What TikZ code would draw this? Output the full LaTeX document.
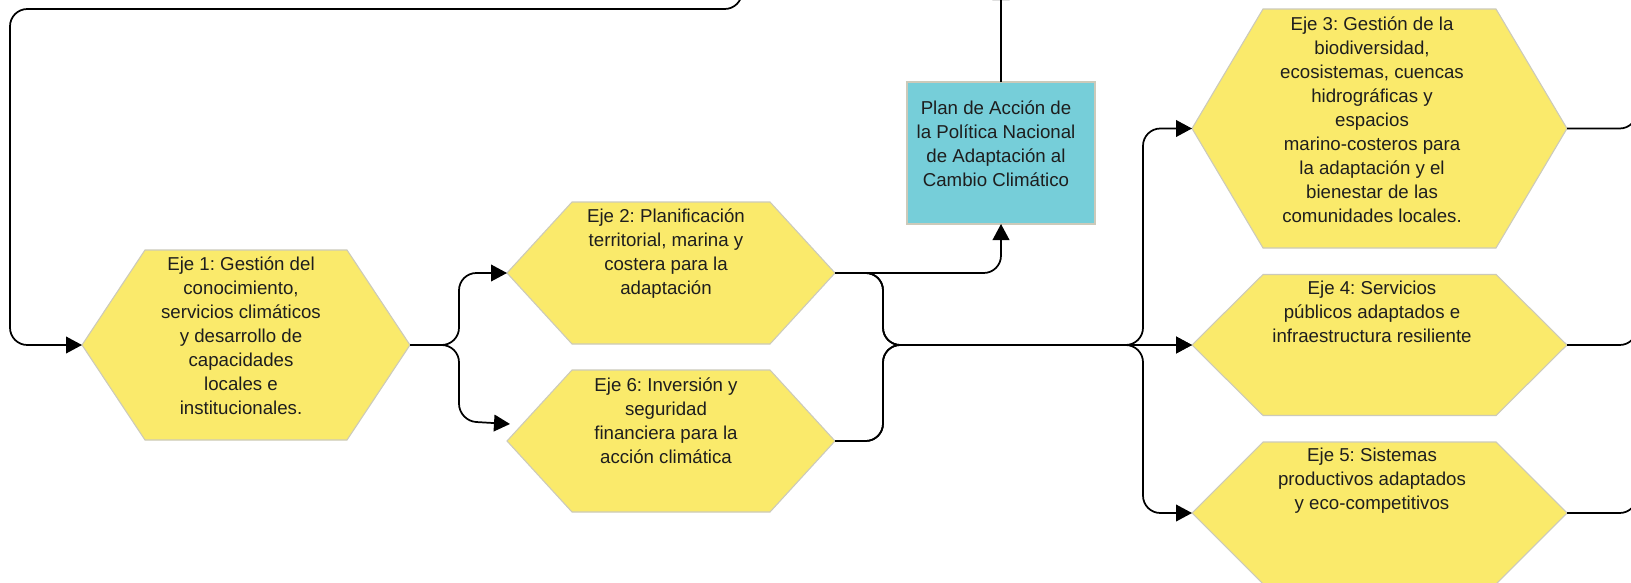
\documentclass[tikz,border=0pt]{standalone}
\usepackage{fontspec}
\setmainfont{Liberation Sans}
\usetikzlibrary{calc,arrows.meta}
\definecolor{hexfill}{HTML}{FAEA6B}
\definecolor{hexline}{HTML}{CCCABA}
\definecolor{planfill}{HTML}{76CED9}
\definecolor{txtcol}{HTML}{1E1E1E}
\frenchspacing
\tikzset{
  box/.style={rectangle, inner sep=0pt, outer sep=0pt},
  hexshape/.style={fill=hexfill, draw=hexline, line width=0.8pt},
  planbox/.style={box, fill=planfill, draw=hexline, line width=0.8pt},
  txt/.style={align=center, anchor=north, inner sep=0pt, text=txtcol, font=\fontsize{14pt}{18pt}\selectfont\frenchspacing},
  conn/.style={line width=1.3pt, rounded corners=13pt},
  arr/.style={conn, -{Triangle[length=12pt,width=12.5pt]}},
}
\newcommand{\hexof}[2]{\path[hexshape] (#1.west) -- ($(#1.north west)+(#2,0)$) -- ($(#1.north east)+(-#2,0)$) -- (#1.east) -- ($(#1.south east)+(-#2,0)$) -- ($(#1.south west)+(#2,0)$) -- cycle;}
\begin{document}
\begin{tikzpicture}[x=0.75pt, y=-0.75pt]
\useasboundingbox (0,0) rectangle (1631,582);
\clip (0,0) rectangle (1631,582);
\fill[white] (0,0) rectangle (1631,582);

% shape holders
\node[box, minimum width=246pt, minimum height=142.5pt] (e1) at (246,345) {};
\node[box, minimum width=246pt, minimum height=106.5pt] (e2) at (671,273) {};
\node[box, minimum width=246pt, minimum height=106.5pt] (e6) at (671,441) {};
\node[box, minimum width=281.25pt, minimum height=179.25pt] (e3) at (1379.5,128.5) {};
\node[box, minimum width=281.25pt, minimum height=105.75pt] (e4) at (1379.5,345) {};
\node[box, minimum width=281.25pt, minimum height=106.5pt] (e5) at (1379.5,513) {};
\node[planbox, minimum width=141pt, minimum height=106.5pt] (plan) at (1001,153) {};

\hexof{e1}{63}
\hexof{e2}{65}
\hexof{e6}{65}
\hexof{e3}{71}
\hexof{e4}{71}
\hexof{e5}{71}

% texts
\node[txt] (e1t) at (241,256) {Eje 1: Gestión del\\conocimiento,\\servicios climáticos\\y desarrollo de\\capacidades\\locales e\\institucionales.};
\node[txt] (e2t) at (666,208) {Eje 2: Planificación\\territorial, marina y\\costera para la\\adaptación};
\node[txt] (e6t) at (666,377) {Eje 6: Inversión y\\seguridad\\financiera para la\\acción climática};
\node[txt] (plant) at (996,100) {Plan de Acción de\\la Política Nacional\\de Adaptación al\\Cambio Climático};
\node[txt] (e3t) at (1372,16) {Eje 3: Gestión de la\\biodiversidad,\\ecosistemas, cuencas\\hidrográficas y\\espacios\\marino-costeros para\\la adaptación y el\\bienestar de las\\comunidades locales.};
\node[txt] (e4t) at (1372,281) {Eje 4: Servicios\\públicos adaptados e\\infraestructura resiliente};
\node[txt] (e5t) at (1372,448) {Eje 5: Sistemas\\productivos adaptados\\y eco-competitivos};

% free ends
\coordinate (toploop) at (742,-40);
\coordinate (planup) at (1001,-16);
\coordinate (e6in) at (510,424);
\coordinate (r3) at (1637,-60);
\coordinate (r4) at (1637,200);
\coordinate (r5) at (1637,400);

% connectors
\draw[arr] (toploop) -- (742,9) -- (10,9) -- (10,345) -- (e1.west);
\draw[arr] (e1.east) -- (459,345) -- (459,273) -- (e2.west);
\draw[arr] (e1.east) -- (459,345) -- (459,421) -- (e6in);
\draw[arr] (e2.east) -- (1001,273) -- (plan.south);
\draw[arr] (plan.north) -- (planup);
\draw[arr] (e2.east) -- (883,273) -- (883,345) -- (e4.west);
\draw[arr] (e6.east) -- (883,441) -- (883,345) -- (e4.west);
\draw[arr] (e2.east) -- (883,273) -- (883,345) -- (1143,345) -- (1143,128.5) -- (e3.west);
\draw[arr] (e6.east) -- (883,441) -- (883,345) -- (1143,345) -- (1143,513) -- (e5.west);
\draw[conn] (e3.east) -- (1637,128.5) -- (r3);
\draw[conn] (e4.east) -- (1637,345) -- (r4);
\draw[conn] (e5.east) -- (1637,513) -- (r5);
\end{tikzpicture}
\end{document}
